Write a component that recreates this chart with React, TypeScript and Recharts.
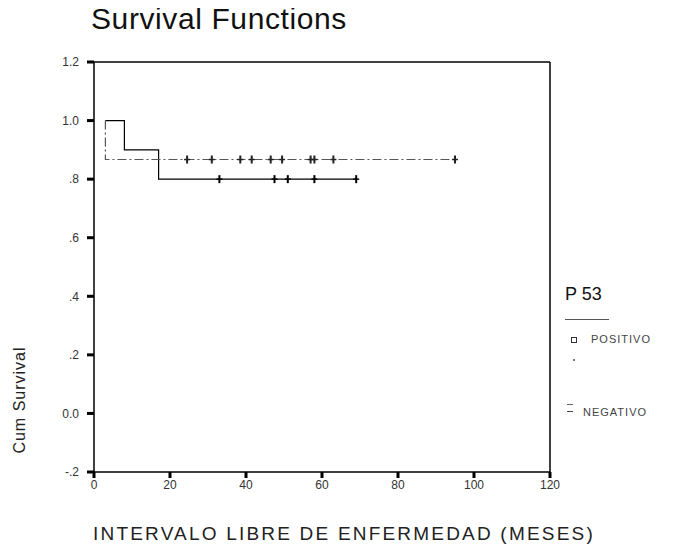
import React from 'react';
import { ComposedChart, Line, Scatter, XAxis, YAxis, ReferenceLine } from 'recharts';

// ejes
const xTicks = [0, 20, 40, 60, 80, 100, 120];
const xTickLabels = ['0', '20', '40', '60', '80', '100', '120'];
const yTicks = [-0.2, 0, 0.2, 0.4, 0.6, 0.8, 1.0, 1.2];
const yTickLabels = ['-.2', '0.0', '.2', '.4', '.6', '.8', '1.0', '1.2'];

// P 53 positivo (linea continua)
const positivoTimes = [3, 8, 17, 69];
const positivoSurv = [1.0, 0.9, 0.8, 0.8];
const positivoCensored = [33, 47.5, 51, 58, 69];

// P 53 negativo (linea discontinua)
const negativoTimes = [3, 3, 95];
const negativoSurv = [1.0, 0.867, 0.867];
const negativoCensored = [24.5, 31, 38.5, 41.5, 46.5, 49.5, 57, 58, 63, 95];

const survAt = (times: number[], surv: number[], t: number) => {
  let s = surv[0];
  times.forEach((tt, i) => {
    if (tt <= t) s = surv[i];
  });
  return s;
};

const positivoLine = positivoTimes.map((t, i) => ({ t, s: positivoSurv[i] }));
const negativoLine = negativoTimes.map((t, i) => ({ t, s: negativoSurv[i] }));
const positivoMarks = positivoCensored.map(t => ({ t, s: survAt(positivoTimes, positivoSurv, t) }));
const negativoMarks = negativoCensored.map(t => ({ t, s: survAt(negativoTimes, negativoSurv, t) }));

const CensorMark = (props: any) => {
  const { cx, cy, fill } = props;
  if (cx == null || cy == null) return null;
  return (
    <g>
      <line x1={cx} x2={cx} y1={cy - 4} y2={cy + 4} stroke={fill} strokeWidth={2} />
      <line x1={cx - 3} x2={cx + 3} y1={cy} y2={cy} stroke={fill} strokeWidth={1.5} />
    </g>
  );
};

const fmtY = (v: number) => yTickLabels[yTicks.findIndex(y => Math.abs(y - v) < 1e-6)] ?? '';
const fmtX = (v: number) => xTickLabels[xTicks.indexOf(v)] ?? '';

export default function App() {
  return (
    <div
      style={{
        position: 'relative',
        width: 694,
        height: 553,
        margin: -8,
        background: '#fff',
        fontFamily: '"Liberation Sans", Arial, sans-serif',
        overflow: 'hidden',
      }}
    >
      <div style={{ position: 'absolute', left: 91, top: 2, fontSize: 30, letterSpacing: 0.6, color: '#111', lineHeight: 'normal' }}>
        Survival Functions
      </div>

      <ComposedChart width={694} height={553} margin={{ top: 62, right: 144, bottom: 51, left: 34 }}>
        <XAxis
          type="number"
          dataKey="t"
          domain={[0, 120]}
          ticks={xTicks}
          tickFormatter={fmtX}
          allowDataOverflow
          height={30}
          tickSize={6}
          tickMargin={2}
          axisLine={{ stroke: '#000', strokeWidth: 1.5 }}
          tickLine={{ stroke: '#000', strokeWidth: 3 }}
          tick={{ fontSize: 12, fill: '#333' }}
        />
        <YAxis
          type="number"
          dataKey="s"
          domain={[-0.2, 1.2]}
          ticks={yTicks}
          tickFormatter={fmtY}
          allowDataOverflow
          width={60}
          tickSize={7}
          tickMargin={8}
          axisLine={{ stroke: '#000', strokeWidth: 1.5 }}
          tickLine={{ stroke: '#000', strokeWidth: 3 }}
          tick={{ fontSize: 12, fill: '#333' }}
        />
        <ReferenceLine y={1.2} stroke="#000" strokeWidth={1.5} />
        <ReferenceLine x={120} stroke="#000" strokeWidth={1.5} />
        <Line
          data={positivoLine}
          dataKey="s"
          type="stepAfter"
          stroke="#000"
          strokeWidth={1.2}
          dot={false}
          isAnimationActive={false}
        />
        <Line
          data={negativoLine}
          dataKey="s"
          type="stepAfter"
          stroke="#555"
          strokeWidth={1.2}
          strokeDasharray="9 3 2 3"
          dot={false}
          isAnimationActive={false}
        />
        <Scatter data={positivoMarks} dataKey="s" fill="#000" shape={<CensorMark />} isAnimationActive={false} />
        <Scatter data={negativoMarks} dataKey="s" fill="#222" shape={<CensorMark />} isAnimationActive={false} />
      </ComposedChart>

      {/* titulo eje Y */}
      <div
        style={{
          position: 'absolute',
          left: 20 - 80,
          top: 400 - 10,
          width: 160,
          height: 20,
          lineHeight: '20px',
          textAlign: 'center',
          transform: 'rotate(-90deg)',
          fontSize: 16,
          letterSpacing: 1,
          color: '#222',
          whiteSpace: 'nowrap',
        }}
      >
        Cum Survival
      </div>

      {/* titulo eje X */}
      <div
        style={{
          position: 'absolute',
          left: 93,
          width: 520,
          top: 522,
          lineHeight: '24px',
          fontSize: 19,
          letterSpacing: 2.2,
          color: '#222',
          whiteSpace: 'nowrap',
        }}
      >
        INTERVALO LIBRE DE ENFERMEDAD (MESES)
      </div>

      {/* leyenda */}
      <div style={{ position: 'absolute', left: 565, top: 284, fontSize: 18, color: '#111' }}>P 53</div>
      <div style={{ position: 'absolute', left: 565, top: 319, width: 44, borderTop: '1px solid #555' }} />
      <div style={{ position: 'absolute', left: 571, top: 337, width: 4, height: 4, border: '1px solid #333' }} />
      <div style={{ position: 'absolute', left: 591, top: 333, fontSize: 11, letterSpacing: 1, color: '#444' }}>POSITIVO</div>
      <div style={{ position: 'absolute', left: 573, top: 359, width: 2, height: 2, background: '#777' }} />
      <div style={{ position: 'absolute', left: 567, top: 404, width: 6, borderTop: '1px dashed #666' }} />
      <div style={{ position: 'absolute', left: 567, top: 411, width: 6, borderTop: '1px solid #444' }} />
      <div style={{ position: 'absolute', left: 583, top: 406, fontSize: 11, letterSpacing: 1, color: '#444' }}>NEGATIVO</div>
    </div>
  );
}
